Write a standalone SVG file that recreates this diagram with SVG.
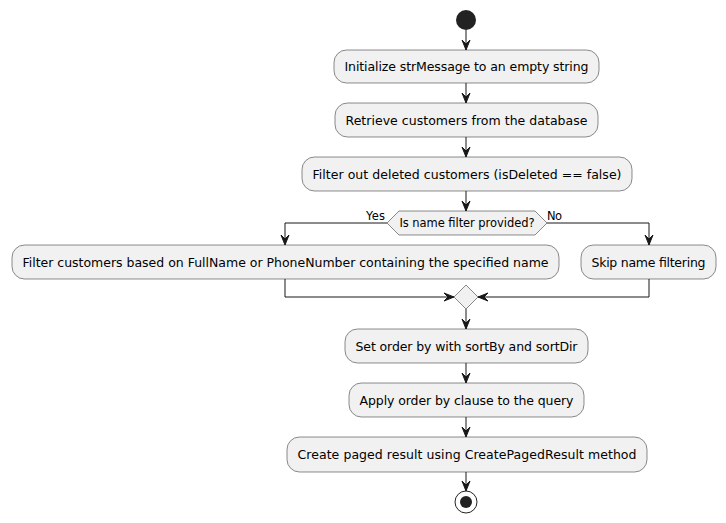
<svg xmlns="http://www.w3.org/2000/svg" width="726" height="523" viewBox="0 0 726 523">
<defs>
<marker id="ah" markerUnits="userSpaceOnUse" markerWidth="12" markerHeight="10" viewBox="0 -5 12 10" refX="10" refY="0" orient="auto" overflow="visible">
<path d="M0,-4 L10,0 L0,4 L4,0 Z" fill="#181818" stroke="#181818" stroke-width="1"/>
</marker>
</defs>
<style>
.box{fill:#F1F1F1;stroke:#181818;stroke-width:0.5}
.t{font-family:"DejaVu Sans",sans-serif;font-size:12.5px;fill:#000;text-anchor:middle}
.s{font-family:"DejaVu Sans",sans-serif;font-size:11.5px;fill:#000}
.c{fill:none;stroke:#181818;stroke-width:1;marker-end:url(#ah)}
.l{fill:none;stroke:#181818;stroke-width:1}
</style>
<rect width="726" height="523" fill="#FFFFFF"/>
<g id="connectors">
<line class="c" x1="466" y1="30" x2="466" y2="50"/>
<line class="c" x1="466" y1="83" x2="466" y2="103"/>
<line class="c" x1="466" y1="137" x2="466" y2="157"/>
<line class="c" x1="466" y1="191" x2="466" y2="211"/>
<polyline class="c" points="387,223 285,223 285,245"/>
<polyline class="c" points="547,223 649,223 649,245"/>
<polyline class="c" points="285,279 285,297 454,297"/>
<polyline class="c" points="649,279 649,297 478,297"/>
<line class="c" x1="466" y1="309" x2="466" y2="329"/>
<line class="c" x1="466" y1="363" x2="466" y2="383"/>
<line class="c" x1="466" y1="417" x2="466" y2="437"/>
<line class="c" x1="466" y1="472" x2="466" y2="491"/>
<text class="s" x="366" y="220" textLength="19">Yes</text>
<text class="s" x="547" y="220" textLength="15">No</text>
</g>
<g id="start"><circle cx="466" cy="20" r="10" fill="#222222"/></g>
<g id="init"><rect class="box" x="334" y="50" width="265" height="33" rx="12.5"/><text class="t" x="466.5" y="71" textLength="244">Initialize strMessage to an empty string</text></g>
<g id="retrieve"><rect class="box" x="335" y="103" width="263" height="34" rx="12.5"/><text class="t" x="466.5" y="124.5" textLength="242">Retrieve customers from the database</text></g>
<g id="filterDeleted"><rect class="box" x="302" y="157" width="330" height="34" rx="12.5"/><text class="t" x="467" y="178.5" textLength="309">Filter out deleted customers (isDeleted == false)</text></g>
<g id="decision"><polygon class="box" points="387,223 399,211 535,211 547,223 535,235 399,235"/><text class="s" x="467" y="227" text-anchor="middle" textLength="135">Is name filter provided?</text></g>
<g id="filterName"><rect class="box" x="12" y="245" width="547" height="34" rx="12.5"/><text class="t" x="285.5" y="266.5" textLength="526">Filter customers based on FullName or PhoneNumber containing the specified name</text></g>
<g id="skip"><rect class="box" x="581" y="245" width="135" height="34" rx="12.5"/><text class="t" x="648.5" y="266.5" textLength="114">Skip name filtering</text></g>
<g id="merge"><polygon class="box" points="466,285 478,297 466,309 454,297"/></g>
<g id="setOrder"><rect class="box" x="345" y="329" width="243" height="34" rx="12.5"/><text class="t" x="466.5" y="350.5" textLength="222">Set order by with sortBy and sortDir</text></g>
<g id="applyOrder"><rect class="box" x="349" y="383" width="235" height="34" rx="12.5"/><text class="t" x="466.5" y="404.5" textLength="214">Apply order by clause to the query</text></g>
<g id="createPaged"><rect class="box" x="287" y="437" width="360" height="35" rx="12.5"/><text class="t" x="467" y="458.5" textLength="339">Create paged result using CreatePagedResult method</text></g>
<g id="end"><circle cx="466" cy="502" r="11" fill="none" stroke="#222222" stroke-width="1"/><circle cx="466" cy="502" r="6" fill="#222222"/></g>
</svg>
